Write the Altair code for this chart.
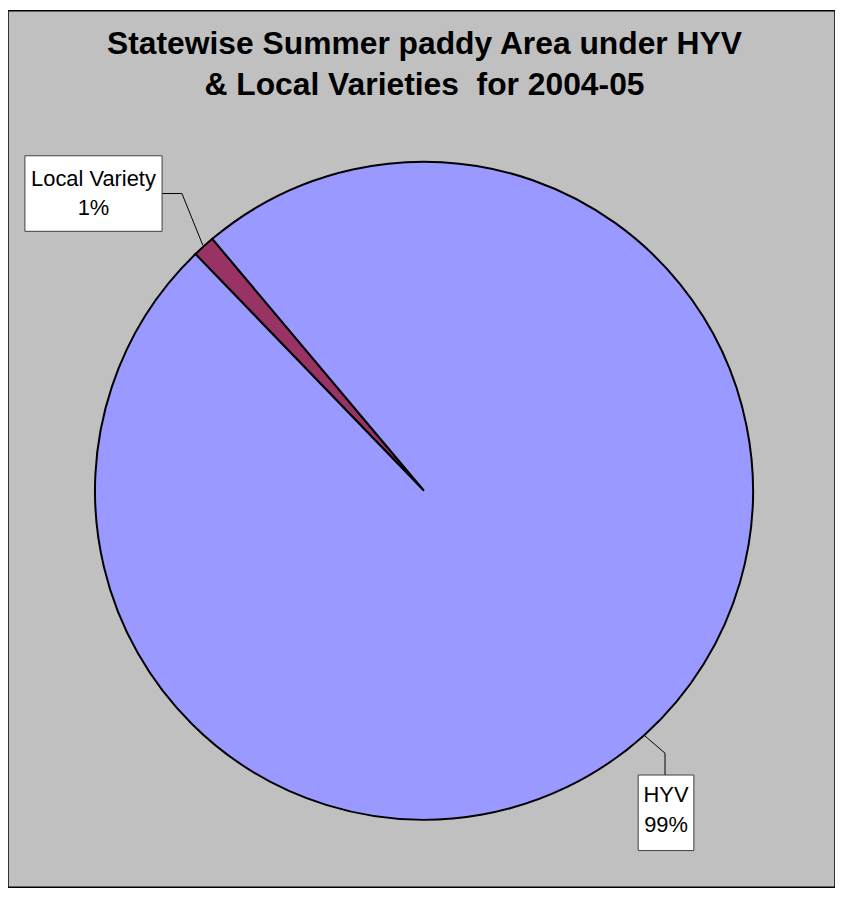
import math
import altair as alt
import pandas as pd

# ---- data ----
categories = ["Local Variety", "HYV"]
values = [1.1, 98.9]
order_idx = [0, 1]
colors = ["#993366", "#9999FF"]
title_lines = ["Statewise Summer paddy Area under HYV", "& Local Varieties \u00a0for 2004-05"]

df = pd.DataFrame({"category": categories, "value": values, "idx": order_idx})

# ---- layout ----
W, H = 832, 882
CX, CY, R = 418.5, 483, 331
START = math.radians(316.0)
FONT = "Liberation Sans"

base = alt.Chart(df).transform_joinaggregate(
    total="sum(value)"
).transform_calculate(
    pct="format(datum.value / datum.total, '.0%')",
    label="datum.category + '\\n' + datum.pct",
)

pie = base.mark_arc(outerRadius=R, stroke="black", strokeWidth=2).encode(
    theta=alt.Theta("value:Q", stack=True,
                    scale=alt.Scale(range=[START, START + 2 * math.pi])),
    order=alt.Order("idx:Q"),
    color=alt.Color("category:N", scale=alt.Scale(domain=categories, range=colors), legend=None),
    x=alt.value(CX),
    y=alt.value(CY),
)


def label_layers(cat, box, tx, ty, leader):
    sub = base.transform_filter(alt.datum.category == cat)
    layers = []
    for (x1, y1, x2, y2) in leader:
        layers.append(sub.mark_rule(color="black", strokeWidth=1).encode(
            x=alt.value(x1), y=alt.value(y1), x2=alt.value(x2), y2=alt.value(y2)))
    layers.append(sub.mark_rect(fill="white", stroke="#404040", strokeWidth=1).encode(
        x=alt.value(box[0]), x2=alt.value(box[1]), y=alt.value(box[2]), y2=alt.value(box[3])))
    layers.append(sub.mark_text(font=FONT, fontSize=22, lineBreak="\n", lineHeight=30,
                                baseline="middle", align="center", color="black").encode(
        text="label:N", x=alt.value(tx), y=alt.value(ty)))
    return layers


local_layers = label_layers(
    "Local Variety", (17, 155, 146, 222), 86, 169,
    [(155, 184, 175, 184), (175, 184, 196, 236)])
hyv_layers = label_layers(
    "HYV", (634, 690, 769, 845), 662, 789,
    [(661, 769, 661, 747), (661, 747, 640, 729)])

title = alt.Chart(pd.DataFrame({"t": [0]})).mark_text(
    font=FONT, fontSize=32, fontWeight="bold", lineHeight=41,
    baseline="alphabetic", align="center", color="black",
).encode(text=alt.value(title_lines), x=alt.value(419), y=alt.value(44))

chart = alt.layer(pie, *local_layers, *hyv_layers, title).properties(
    width=W, height=H, autosize="none", padding=0, background="white",
).configure_view(fill="#C0C0C0", stroke="black", strokeWidth=1.5)

chart.save("out.html", embed_options={"renderer": "svg", "actions": False})
